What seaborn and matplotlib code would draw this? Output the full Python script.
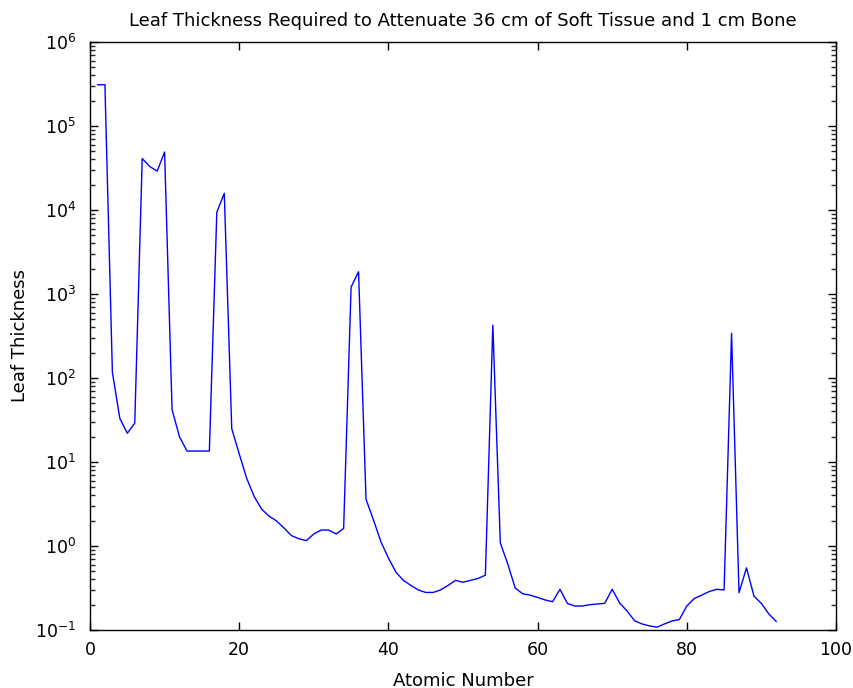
import matplotlib
matplotlib.use("Agg")
import matplotlib.pyplot as plt
import matplotlib.ticker as mticker
import numpy as np
import pandas as pd
import seaborn as sns


# atomic number 1..92
atomic_number = list(range(1, 93))

# leaf thickness (log axis)
leaf_thickness = [
    3.1e5, 3.1e5, 117, 33, 22, 29, 4.1e4, 3.3e4, 2.9e4, 4.9e4,        # 1-10
    42, 19.9, 13.5, 13.5, 13.5, 13.5, 9.4e3, 1.58e4, 25, 12.5,        # 11-20
    6.4, 3.9, 2.75, 2.27, 1.99, 1.64, 1.33, 1.22, 1.16, 1.39,         # 21-30
    1.55, 1.55, 1.39, 1.62, 1.21e3, 1.84e3, 3.6, 2.04, 1.12, 0.72,    # 31-40
    0.49, 0.39, 0.34, 0.30, 0.28, 0.28, 0.30, 0.34, 0.39, 0.37,       # 41-50
    0.39, 0.41, 0.45, 425, 1.09, 0.61, 0.316, 0.27, 0.26, 0.244,      # 51-60
    0.228, 0.217, 0.305, 0.207, 0.193, 0.193, 0.20, 0.204, 0.208, 0.305,  # 61-70
    0.21, 0.168, 0.129, 0.118, 0.112, 0.108, 0.118, 0.128, 0.133, 0.193,  # 71-80
    0.237, 0.26, 0.287, 0.305, 0.30, 340, 0.278, 0.55, 0.254, 0.207,  # 81-90
    0.155, 0.126,                                                     # 91-92
]

title = "Leaf Thickness Required to Attenuate 36 cm of Soft Tissue and 1 cm Bone"
x_label = "Atomic Number"
y_label = "Leaf Thickness"
x_ticks = [0, 20, 40, 60, 80, 100]
y_ticks = [1e-1, 1e0, 1e1, 1e2, 1e3, 1e4, 1e5, 1e6]

df = pd.DataFrame({"z": atomic_number, "thickness": leaf_thickness})

sns.set_theme(style="ticks")
plt.rcParams["font.family"] = ["DejaVu Sans"]
plt.rcParams["mathtext.fontset"] = "dejavusans"
plt.rcParams["mathtext.default"] = "regular"

fig = plt.figure(figsize=(8.54, 6.88), dpi=100)
ax = fig.add_axes([90 / 854, 1 - 630 / 688, 746 / 854, 588 / 688])

sns.lineplot(data=df, x="z", y="thickness", color="#0000ff", linewidth=1.0, ax=ax)

ax.set_yscale("log")
ax.set_xlim(0, 100)
ax.set_ylim(1e-1, 1e6)
ax.set_xticks(x_ticks)
ax.yaxis.set_major_locator(mticker.FixedLocator(y_ticks))
ax.yaxis.set_major_formatter(mticker.LogFormatterSciNotation(base=10))
ax.yaxis.set_minor_locator(mticker.LogLocator(base=10, subs=np.arange(2, 10), numticks=20))
ax.yaxis.set_minor_formatter(mticker.NullFormatter())

ax.tick_params(axis="both", which="major", direction="in", length=6, width=1,
               top=True, right=True, labelsize=12.5, colors="black")
ax.tick_params(axis="x", which="major", pad=8)
ax.tick_params(axis="y", which="major", pad=10)
ax.tick_params(axis="y", which="minor", direction="in", length=3.5, width=1,
               left=True, right=True)
ax.tick_params(axis="x", which="minor", bottom=False, top=False)
for side in ["top", "right", "bottom", "left"]:
    ax.spines[side].set_visible(True)
    ax.spines[side].set_color("black")
    ax.spines[side].set_linewidth(1)

ax.set_title(title, fontsize=13, pad=11.5, color="black")
ax.set_xlabel(x_label, fontsize=13, labelpad=9, color="black")
ax.set_ylabel(y_label, fontsize=13, labelpad=4, color="black")

fig.savefig("out.png", dpi=100, facecolor="white")
